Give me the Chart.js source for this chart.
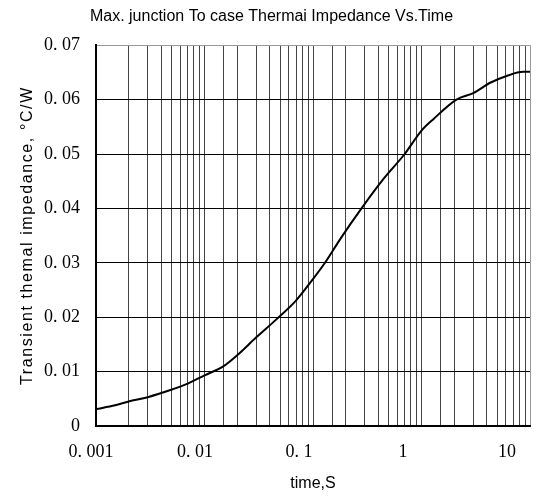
<!DOCTYPE html>
<html>
<head>
<meta charset="utf-8">
<script src="https://cdn.jsdelivr.net/npm/chart.js@4"></script>
<style>
  html, body { margin: 0; padding: 0; background: #fff; }
  #wrap { width: 548px; height: 499px; }
</style>
</head>
<body>
<div id="wrap"><canvas id="zth_chart" width="548" height="499"></canvas></div>
<script>
// time (s) and transient thermal impedance (°C/W)
const times = [0.001, 0.0015, 0.002, 0.003, 0.005, 0.007, 0.01, 0.015, 0.02, 0.03,
  0.046, 0.07, 0.094, 0.129, 0.18, 0.28, 0.45, 0.7, 1.0, 1.3, 2.1, 3, 4.3, 6, 8.7, 10];
const impedance = [0.0031, 0.0038, 0.0045, 0.0053, 0.0067, 0.0078, 0.0093, 0.0110, 0.0130, 0.0163,
  0.0196, 0.0231, 0.0263, 0.0300, 0.0345, 0.0400, 0.0455, 0.0500, 0.0543, 0.0565, 0.0600, 0.0612, 0.0631, 0.0643, 0.0651, 0.0651];
const x_tick_values = [0.001, 0.01, 0.1, 1, 10];
const x_tick_labels = ['0. 001', '0. 01', '0. 1', '1', '10'];
const y_labels = ['0', '0. 01', '0. 02', '0. 03', '0. 04', '0. 05', '0. 06', '0. 07'];

function draw_zth(element_id){
    let points = [];
    for (let i in times){
        points.push({x: times[i], y: impedance[i]});
    }
    const tickFont = {family: 'Liberation Serif', size: 18};
    const ctx = document.getElementById(element_id);
    new Chart(ctx, {
        type: 'line',
        data: {
          datasets: [{
            data: points,
            xAxisID: 'x',
            borderColor: '#000',
            borderWidth: 2,
            pointRadius: 0,
            cubicInterpolationMode: 'monotone',
            fill: false
          }]
        },
        options: {
          responsive: false,
          animation: false,
          layout: {padding: {left: 13, right: 18, top: 0, bottom: 0}},
          plugins: {
            legend: {display: false},
            tooltip: {enabled: false},
            title: {
              display: true,
              text: 'Max. junction To case Thermai Impedance Vs.Time',
              color: '#000',
              font: {family: 'Liberation Sans', size: 16, weight: 'normal', lineHeight: 1.2},
              padding: {top: 7, bottom: 19}
            }
          },
          scales: {
            // grid axis (no labels)
            x: {
              type: 'logarithmic',
              min: 0.001,
              max: 10,
              weight: 0,
              afterFit: function(scale){ scale.height = 0; },
              grid: {
                drawTicks: false,
                color: function(c){ return (c.tick && c.tick.value === 10) ? '#999' : '#444'; },
                lineWidth: 1
              },
              border: {color: '#000', width: 2},
              ticks: {
                display: false,
                autoSkip: false,
                callback: function(){ return ''; }
              }
            },
            // label axis: decade labels sit a little to the left of their grid lines in the original
            x2: {
              type: 'logarithmic',
              position: 'bottom',
              min: 0.00112,
              max: 16.6,
              weight: 1,
              afterFit: function(scale){ scale.height = 73; },
              afterBuildTicks: function(scale){
                  scale.ticks = x_tick_values.map(function(v){ return {value: v}; });
              },
              grid: {display: false, drawTicks: false},
              border: {display: false},
              ticks: {
                autoSkip: false,
                maxRotation: 0,
                padding: 15,
                color: '#000',
                font: tickFont,
                callback: function(v){
                    let i = x_tick_values.findIndex(function(t){ return Math.abs(t - v) < t * 1e-6; });
                    return i < 0 ? '' : x_tick_labels[i];
                }
              },
              title: {
                display: true,
                text: 'time,S',
                color: '#000',
                font: {family: 'Liberation Sans', size: 16, lineHeight: 1.2},
                padding: {top: 0, bottom: 6}
              }
            },
            y: {
              min: 0,
              max: 0.07,
              afterFit: function(scale){
                  scale.width = 83;
                  if (!scale._spaced){
                      // the original y title is loosely letter-spaced
                      const orig = scale.drawTitle;
                      scale.drawTitle = function(){
                          this.ctx.save();
                          this.ctx.letterSpacing = '1.6px';
                          orig.apply(this, arguments);
                          this.ctx.restore();
                      };
                      scale._spaced = true;
                  }
              },
              grid: {
                drawTicks: false,
                color: function(c){ return (c.tick && Math.abs(c.tick.value - 0.07) < 1e-9) ? '#999' : '#000'; },
                lineWidth: 1
              },
              border: {color: '#000', width: 2},
              ticks: {
                stepSize: 0.01,
                padding: 16,
                color: '#000',
                font: tickFont,
                callback: function(v){ return y_labels[Math.round(v * 100)]; }
              },
              title: {
                display: true,
                text: 'Transient themal impedance, °C/W',
                color: '#000',
                font: {family: 'Liberation Sans', size: 16, lineHeight: 1.2},
                padding: {top: 5, bottom: 0}
              }
            }
          }
        }});
}

draw_zth('zth_chart');
</script>
</body>
</html>
